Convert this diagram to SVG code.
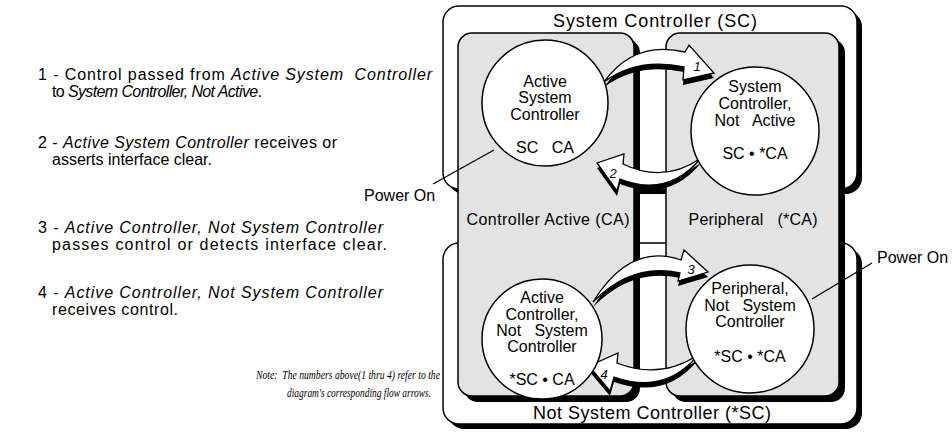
<svg xmlns="http://www.w3.org/2000/svg" width="952" height="435" viewBox="0 0 952 435">
<style>
.box{fill:#fff;stroke:#000;stroke-width:1.5}
.sh{fill:#000}
.panel{fill:#e3e3e3;stroke:#000;stroke-width:1.5}
.node{fill:#fff;stroke:#000;stroke-width:1.5}
.t{font-family:"Liberation Sans",Arial,sans-serif;fill:#000}
.big{font-size:18px;text-anchor:middle}
.mid{font-size:16px;text-anchor:middle}
.lbl{font-size:16px}
.ct{font-size:16px;text-anchor:middle}
.it{font-style:italic}
.arrow{fill:#fff;stroke:#000;stroke-width:1.3;stroke-linejoin:miter}
.num{font-family:"Liberation Sans",Arial,sans-serif;font-style:italic;font-size:13px;text-anchor:middle}
.note{font-family:"Liberation Serif","Times New Roman",serif;font-style:italic;font-size:13.5px}
.pw{stroke:#000;stroke-width:1.2;fill:none}
</style>
<g id="region-sc">
<rect class="sh" x="448" y="11" width="414" height="183" rx="16"/>
<rect class="box" x="443" y="6" width="414" height="183" rx="16"/>
<text class="t big" x="655" y="27" textLength="204">System Controller (SC)</text>
</g>
<g id="region-nsc">
<rect class="sh" x="448" y="248" width="414" height="181" rx="16"/>
<rect class="box" x="443" y="243" width="414" height="181" rx="16"/>
<text class="t big" x="652" y="419" textLength="238">Not System Controller (*SC)</text>
</g>
<g id="region-ca">
<rect class="sh" x="464" y="39" width="176" height="363" rx="14"/>
<rect class="panel" x="458" y="33" width="176" height="363" rx="14"/>
<text class="t mid" x="548" y="225" textLength="163">Controller Active (CA)</text>
</g>
<g id="region-per">
<rect class="sh" x="672" y="39" width="173" height="363" rx="14"/>
<rect class="panel" x="666" y="33" width="173" height="363" rx="14"/>
<text class="t mid" x="753" y="225" textLength="129" xml:space="preserve">Peripheral   (*CA)</text>
</g>
<g id="connectors">
<g id="arrow-1">
<path class="sh" transform="translate(0,5)" d="M604,82 Q634,40 685,52 L689,45 L714,73 L683,80 L684,67 Q638,57 604,82 Z"/>
<path class="arrow" d="M604,82 Q634,40 685,52 L689,45 L714,73 L683,80 L684,67 Q638,57 604,82 Z"/>
<text class="num" x="697" y="71">1</text>
</g>
<g id="arrow-2">
<path class="sh" transform="translate(0,5)" d="M701,158 Q664,184 623,164 L624,154 L597,163 L617,191 L620,179 Q668,198 701,158 Z"/>
<path class="arrow" d="M701,158 Q664,184 623,164 L624,154 L597,163 L617,191 L620,179 Q668,198 701,158 Z"/>
<text class="num" x="613" y="178">2</text>
</g>
<g id="arrow-3">
<path class="sh" transform="translate(0,5)" d="M593,302 Q630,242 681,260 L684,250 L708,272 L678,281 L680,273 Q632,262 593,302 Z"/>
<path class="arrow" d="M593,302 Q630,242 681,260 L684,250 L708,272 L678,281 L680,273 Q632,262 593,302 Z"/>
<text class="num" x="691" y="274">3</text>
</g>
<g id="arrow-4">
<path class="sh" transform="translate(0,5)" d="M698,355 Q660,380 617,363 L618,353 L589,366 L610,391 L614,377 Q666,395 698,355 Z"/>
<path class="arrow" d="M698,355 Q660,380 617,363 L618,353 L589,366 L610,391 L614,377 Q666,395 698,355 Z"/>
<text class="num" x="604" y="379">4</text>
</g>
<line class="pw" x1="433" y1="184" x2="494" y2="150"/>
<line class="pw" x1="872" y1="263" x2="812" y2="299"/>
</g>
<g id="node-asc">
<circle class="node" cx="545" cy="103" r="63"/>
<text class="t ct" x="545" y="87">Active</text>
<text class="t ct" x="545" y="103">System</text>
<text class="t ct" x="545" y="120">Controller</text>
<text class="t ct" x="545" y="153" xml:space="preserve">SC   CA</text>
</g>
<g id="node-scna">
<circle class="node" cx="755" cy="131" r="64"/>
<text class="t ct" x="755" y="92">System</text>
<text class="t ct" x="755" y="109">Controller,</text>
<text class="t ct" x="755" y="126" xml:space="preserve">Not   Active</text>
<text class="t ct" x="755" y="159">SC • *CA</text>
</g>
<g id="node-acnsc">
<circle class="node" cx="542" cy="339" r="60"/>
<text class="t ct" x="542" y="303">Active</text>
<text class="t ct" x="542" y="320">Controller,</text>
<text class="t ct" x="542" y="336" xml:space="preserve">Not   System</text>
<text class="t ct" x="542" y="352">Controller</text>
<text class="t ct" x="542" y="385">*SC • CA</text>
</g>
<g id="node-pnsc">
<circle class="node" cx="750" cy="329" r="64"/>
<text class="t ct" x="750" y="294">Peripheral,</text>
<text class="t ct" x="750" y="311" xml:space="preserve">Not   System</text>
<text class="t ct" x="750" y="327">Controller</text>
<text class="t ct" x="750" y="362">*SC • *CA</text>
</g>
<g id="labels">
<text class="t lbl" x="364" y="201">Power On</text>
<text class="t lbl" x="877" y="263">Power On</text>
<text class="t lbl" x="38" y="80" textLength="394" xml:space="preserve">1 - Control passed from <tspan class="it">Active System  Controller</tspan></text>
<text class="t lbl" x="52" y="97" textLength="210">to <tspan class="it">System Controller, Not Active</tspan>.</text>
<text class="t lbl" x="38" y="148" textLength="299">2 - <tspan class="it">Active System Controller</tspan> receives or</text>
<text class="t lbl" x="52" y="165" textLength="160">asserts interface clear.</text>
<text class="t lbl" x="38" y="233" textLength="345">3 - <tspan class="it">Active Controller, Not System Controller</tspan></text>
<text class="t lbl" x="52" y="250" textLength="335">passes control or detects interface clear.</text>
<text class="t lbl" x="38" y="298" textLength="345">4 - <tspan class="it">Active Controller, Not System Controller</tspan></text>
<text class="t lbl" x="52" y="315" textLength="126">receives control.</text>
<text class="note" x="256" y="379" textLength="184" lengthAdjust="spacingAndGlyphs" xml:space="preserve">Note:  The numbers above(1 thru 4) refer to the</text>
<text class="note" x="287" y="397" textLength="144" lengthAdjust="spacingAndGlyphs">diagram's corresponding flow arrows.</text>
</g>
</svg>
